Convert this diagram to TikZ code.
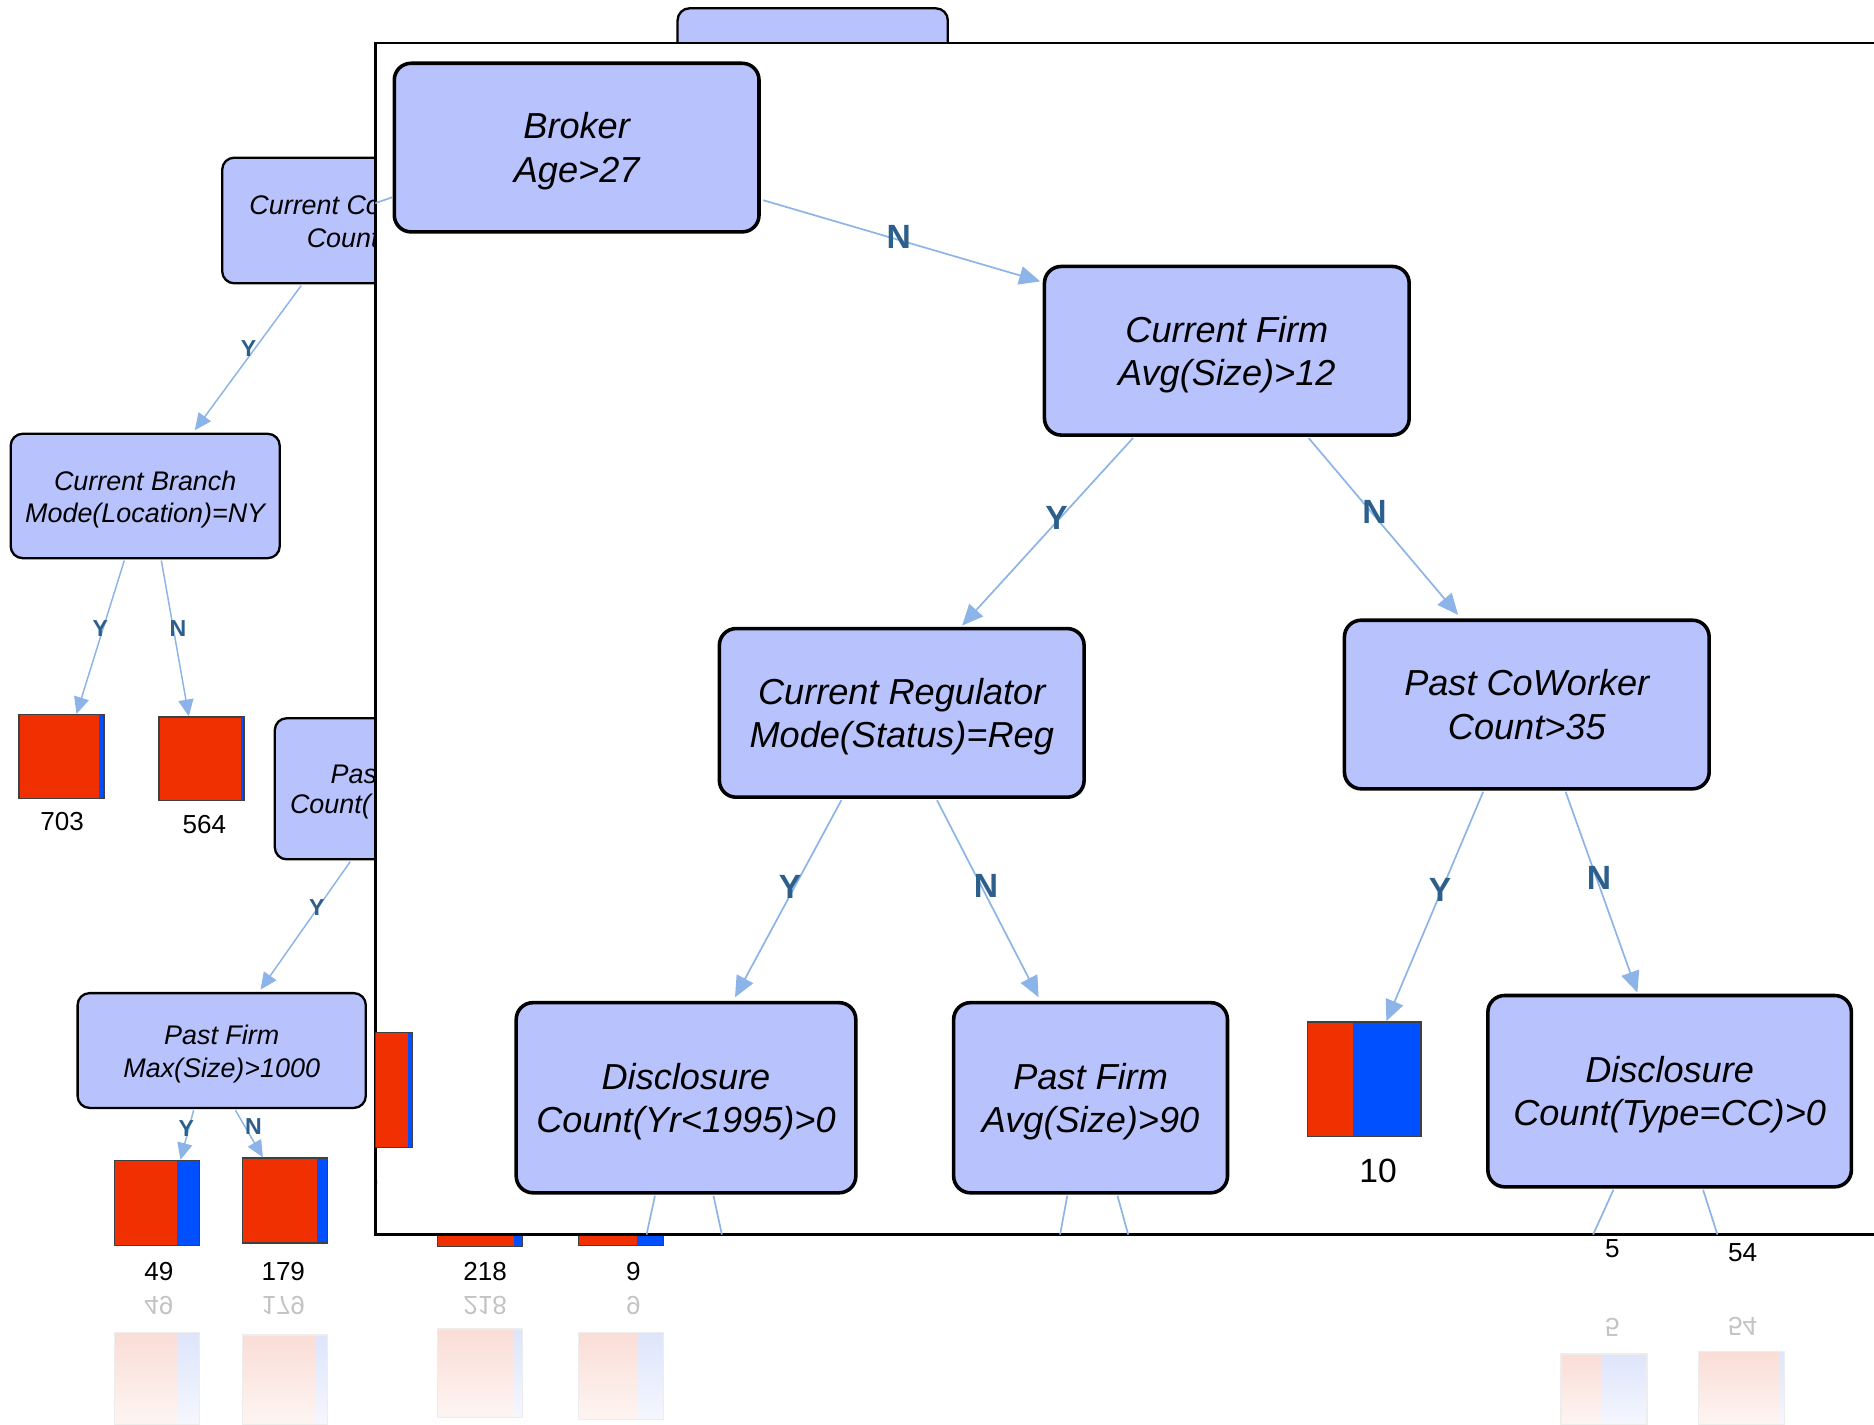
\documentclass[tikz,border=0pt]{standalone}
\usepackage{fontspec}
\setmainfont{Liberation Sans}
\usetikzlibrary{arrows.meta,calc,fit}
\definecolor{nodefill}{RGB}{184,194,252}
\definecolor{edgeblue}{RGB}{140,180,232}
\definecolor{lblblue}{RGB}{45,95,140}
\definecolor{leafred}{RGB}{240,48,0}
\definecolor{leafblue}{RGB}{0,80,255}
\definecolor{fadered}{RGB}{250,221,214}
\definecolor{fadeblue}{RGB}{222,229,251}
\definecolor{fadetext}{RGB}{195,195,195}
\newcommand\leafbox[6]{%
  \fill[leafred] (#2,#3) rectangle (#4,#6);
  \fill[leafblue] (#4,#3) rectangle (#5,#6);
  \node[leaffr,fit={(#2,#3) (#5,#6)}] (#1) {};
}
\newcommand\fadebox[5]{%
  \shade[top color=fadered,bottom color=fadered!30] (#1,#2) rectangle (#3,#5);
  \shade[top color=fadeblue,bottom color=fadeblue!30] (#3,#2) rectangle (#4,#5);
  \draw[black!7,line width=0.3pt] (#1,#2) rectangle (#4,#5);
}
\newcommand\insettwo[2]{\rule{0pt}{8.1pt}#1\\#2\rule[-1.9pt]{0pt}{0pt}}
\newcommand\bgtwo[2]{\rule{0pt}{6.46pt}#1\\#2\rule[-1.4pt]{0pt}{0pt}}
\begin{document}
\begin{tikzpicture}[x=0.01cm,y=-0.01cm,
  bgbox/.style={draw=black,line width=0.55pt,fill=nodefill,rounded corners=0.1cm,inner sep=0pt,align=center,font=\fontsize{6.4}{7.7}\selectfont\itshape},
  inbox/.style={draw=black,line width=0.85pt,fill=nodefill,rounded corners=0.14cm,align=center,inner sep=0pt,font=\fontsize{8.6}{10.3}\selectfont\itshape},
  bgtext/.style={inner sep=0pt,font=\fontsize{6.4}{7.7}\selectfont\itshape},
  inconn/.style={draw=edgeblue,line width=0.4pt,-{Triangle[length=5pt,width=4.4pt]}},
  bgconn/.style={draw=edgeblue,line width=0.35pt,-{Triangle[length=4pt,width=3.6pt]}},
  plainconn/.style={draw=edgeblue,line width=0.4pt},
  inlbl/.style={text=lblblue,font=\fontsize{8}{8}\selectfont\bfseries,inner sep=0pt},
  bglbl/.style={text=lblblue,font=\fontsize{5.5}{5.5}\selectfont\bfseries,inner sep=0pt},
  bgnum/.style={font=\fontsize{6.2}{6.2}\selectfont,inner sep=0pt},
  innum/.style={font=\fontsize{8}{8}\selectfont,inner sep=0pt},
  refnum/.style={text=fadetext,font=\fontsize{6.2}{6.2}\selectfont,inner sep=0pt},
  leaffr/.style={draw=black!75,line width=0.35pt,inner sep=0pt},
]
\useasboundingbox (0,0) rectangle (1568,1192);
\clip (0,0) rectangle (1568,1192);

% ---------- background tree ----------
\node[bgbox,minimum width=2.26cm,minimum height=1.03cm] (topbox) at (680,58.5) {};
\node[bgbox,minimum width=2.25cm,minimum height=1.05cm] (ccw) at (298.5,184.5) {};
\node[bgtext,anchor=west] (ccwa) at (208,172) {Current Co};
\node[bgtext,anchor=west] (ccwb) at (256,199) {Count};
\node[bgbox,minimum width=2.25cm,minimum height=1.04cm] (cbranch) at (121.5,415) {\bgtwo{Current Branch}{Mode(Location)=NY}};
\node[bgbox,minimum width=2.41cm,minimum height=1.18cm] (pas) at (350.5,660) {};
\node[bgtext,anchor=west] (pasa) at (276,648) {Pas};
\node[bgtext,anchor=west] (pasb) at (242,675) {Count(};
\node[bgbox,minimum width=2.41cm,minimum height=0.96cm] (pfmax) at (185.5,879) {\bgtwo{Past Firm}{Max(Size)>1000}};

\leafbox{l703}{16}{598}{83}{87}{668}
\leafbox{l564}{133}{600}{202}{204}{670}
\leafbox{l49}{96}{971}{148}{167}{1042}
\leafbox{l179}{203}{969}{265}{274}{1040}
\leafbox{l218}{366}{972}{430}{437}{1043}
\leafbox{l9}{484}{971}{533}{555}{1042}

\draw[bgconn] ($(ccw.south)+(-46.5,1)$) -- ($(cbranch.north)+(41.5,-2)$);
\node[bglbl] (ly1) at (208,292) {Y};
\draw[bgconn] ($(cbranch.south)+(-17.5,1)$) -- ($(l703.north)+(12.5,0)$);
\node[bglbl] (ly2) at (84,526) {Y};
\draw[bgconn] ($(cbranch.south)+(13.5,1)$) -- ($(l564.north)+(-10.5,0)$);
\node[bglbl] (ln2) at (149,526) {N};
\draw[bgconn] ($(pas.south)+(-57.5,1)$) -- ($(pfmax.north)+(32.5,-2)$);
\node[bglbl] (ly3) at (265,759) {Y};
\draw[bgconn] ($(pfmax.south)+(-23.5,1)$) -- ($(l49.north)+(19.5,0)$);
\node[bglbl] (ly4) at (156,944) {Y};
\draw[bgconn] ($(pfmax.south)+(11.5,1)$) -- ($(l179.north)+(-18.5,0)$);
\node[bglbl] (ln4) at (212,943) {N};

\node[bgnum] (n703) at (52,687) {703};
\node[bgnum] (n564) at (171,690) {564};
\node[bgnum] (n49) at (133,1064) {49};
\node[bgnum] (n179) at (237,1064) {179};
\node[bgnum] (n218) at (406,1064) {218};
\node[bgnum] (n9) at (530,1064) {9};
\node[bgnum] (n5) at (1349,1045) {5};
\node[bgnum] (n54) at (1458,1048) {54};

% reflections
\node[refnum] (r49) at (133,1092) {\scalebox{1}[-1]{49}};
\node[refnum] (r179) at (237,1092) {\scalebox{1}[-1]{179}};
\node[refnum] (r218) at (406,1092) {\scalebox{1}[-1]{218}};
\node[refnum] (r9) at (530,1092) {\scalebox{1}[-1]{9}};
\node[refnum] (r5) at (1349,1111) {\scalebox{1}[-1]{5}};
\node[refnum] (r54) at (1458,1110) {\scalebox{1}[-1]{54}};
\fadebox{96}{1115}{148}{167}{1192}
\fadebox{203}{1117}{265}{274}{1192}
\fadebox{366}{1112}{430}{437}{1186}
\fadebox{484}{1115}{533}{555}{1188}
\fadebox{1306}{1133}{1340}{1378}{1192}
\fadebox{1421}{1131}{1489}{1493}{1192}

% ---------- inset ----------
\draw[line width=0.6pt,fill=white] (314,36) rectangle (1600,1033);
\begin{scope}
\clip (314,36) rectangle (1600,1033);
\leafbox{lpart}{274}{864}{341}{345}{960}
\node[innum] (npart) at (309,990) {0};

\node[inbox,minimum width=3.05cm,minimum height=1.41cm] (broker) at (482.5,123.5) {\insettwo{Broker}{Age>27}};
\node[inbox,minimum width=3.05cm,minimum height=1.41cm] (cfirm) at (1026.5,293.5) {\insettwo{Current Firm}{Avg(Size)>12}};
\node[inbox,minimum width=3.05cm,minimum height=1.41cm] (creg) at (754.5,596.5) {\insettwo{Current Regulator}{Mode(Status)=Reg}};
\node[inbox,minimum width=3.05cm,minimum height=1.41cm] (pcw) at (1277.5,589.5) {\insettwo{Past CoWorker}{Count>35}};
\node[inbox,minimum width=2.84cm,minimum height=1.59cm] (disc1) at (574,918.5) {\insettwo{Disclosure}{Count(Yr<1995)>0}};
\node[inbox,minimum width=2.29cm,minimum height=1.59cm] (pfirm) at (912.5,918.5) {\insettwo{Past Firm}{Avg(Size)>90}};
\node[inbox,minimum width=3.04cm,minimum height=1.60cm] (disc2) at (1397,913) {\insettwo{Disclosure}{Count(Type=CC)>0}};
\leafbox{leaf10}{1094}{855}{1132}{1189}{951}
\node[innum] (n10) at (1153,980) {10};

\coordinate (eb) at (314,170);
\draw[plainconn] ($(broker.west)+(0,41.5)$) -- (eb);

\draw[inconn] ($(broker.south east)+(2,-28)$) -- ($(cfirm.north west)+(-2,14)$);
\node[inlbl] (lb1) at (752,198) {N};
\draw[inconn] ($(cfirm.south)+(-78.5,1)$) -- ($(creg.north)+(50.5,-1)$);
\node[inlbl] (lb2) at (884,433) {Y};
\draw[inconn] ($(cfirm.south)+(68.5,1)$) -- ($(pcw.north)+(-57.5,-3)$);
\node[inlbl] (lb3) at (1150,428) {N};
\draw[inconn] ($(creg.south)+(-50.5,1)$) -- ($(disc1.north)+(41,-3)$);
\node[inlbl] (lb4) at (661,742) {Y};
\draw[inconn] ($(creg.south)+(29.5,1)$) -- ($(pfirm.north)+(-43.5,-3)$);
\node[inlbl] (lb5) at (825,741) {N};
\draw[inconn] ($(pcw.south)+(-36.5,1)$) -- ($(leaf10.north)+(18.5,0)$);
\node[inlbl] (lb6) at (1205,745) {Y};
\draw[inconn] ($(pcw.south)+(32.5,1)$) -- ($(disc2.north)+(-27,-1)$);
\node[inlbl] (lb7) at (1338,735) {N};

\coordinate (d1a) at (541,1033);
\coordinate (d1b) at (604,1033);
\coordinate (pfa) at (887,1033);
\coordinate (pfb) at (944,1033);
\coordinate (d2a) at (1333,1033);
\coordinate (d2b) at (1437,1033);
\draw[plainconn] ($(disc1.south)+(-26,1)$) -- (d1a);
\draw[plainconn] ($(disc1.south)+(23,1)$) -- (d1b);
\draw[plainconn] ($(pfirm.south)+(-19.5,1)$) -- (pfa);
\draw[plainconn] ($(pfirm.south)+(22.5,1)$) -- (pfb);
\draw[plainconn] ($(disc2.south)+(-47,1)$) -- (d2a);
\draw[plainconn] ($(disc2.south)+(28,1)$) -- (d2b);
\end{scope}
\end{tikzpicture}
\end{document}
